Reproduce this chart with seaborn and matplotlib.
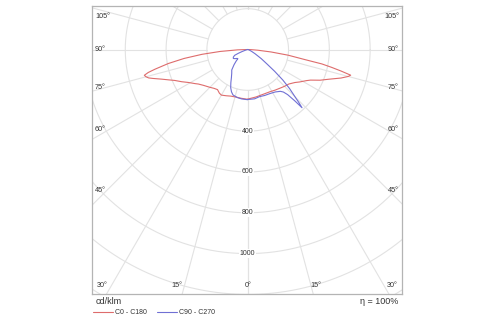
import numpy as np
import pandas as pd
import matplotlib
matplotlib.use("Agg")
import matplotlib.pyplot as plt
from matplotlib.lines import Line2D
import seaborn as sns

# Luminous intensity distribution (gamma angle in degrees, intensity in cd/klm)
c0_gamma = [0, 10, 20, 28, 34, 40, 45, 50, 55, 58, 62, 64, 67, 70, 73, 75, 76, 77, 78, 79, 80, 82, 84, 86, 88, 90]
c0_cd = [243, 236, 232, 234, 240, 247, 255, 263, 282, 300, 325, 342, 385, 425, 478, 510, 520, 470, 420, 370, 285, 200, 115, 50, 15, 0]

c180_gamma = [0, 8, 13, 20, 25, 30, 33, 37, 41, 45, 51, 55, 57, 61, 64, 67, 69, 71, 73, 74, 75, 76, 77, 78, 80, 82, 84, 86, 88, 90]
c180_cd = [244, 241, 240, 243, 250, 258, 255, 246, 252, 262, 279, 295, 307, 333, 360, 388, 415, 446, 485, 505, 516, 522, 500, 465, 395, 315, 225, 135, 50, 0]

c90_gamma = [0, 8, 14, 20, 27, 33, 38, 40, 41.5, 42.5, 43, 44, 45, 47, 49, 51, 53, 56, 60, 65, 70, 75, 90]
c90_cd = [245, 244, 238, 240, 242, 248, 260, 272, 295, 340, 390, 360, 328, 280, 228, 170, 120, 80, 42, 20, 8, 2, 0]

c270_gamma = [0, 7, 12, 18, 21, 24, 27, 30, 34, 38, 42, 45, 47, 50, 54, 58, 62, 66, 68, 70, 73, 76, 80, 90]
c270_cd = [246, 244, 241, 234, 222, 205, 182, 160, 140, 127, 100, 80, 66, 68, 76, 83, 80, 70, 50, 30, 12, 4, 0, 0]

plane_names = ["C0 - C180", "C90 - C270"]
plane_colors = ["#de6c6c", "#7070d4"]

ring_values = [200, 400, 600, 800, 1000, 1200, 1400]
ring_labels = [400, 600, 800, 1000]
spoke_angles = list(range(0, 181, 15))
side_angle_labels = [105, 90, 75, 60, 45]
bottom_angle_labels = [30, 15, 0, 15, 30]

TEXT = "#333333"
GRID = "#e2e2e2"


def plane_xy(left_gamma, left_cd, right_gamma, right_cd):
    lg = np.radians(left_gamma[::-1])
    lr = np.asarray(left_cd[::-1], float)
    rg = np.radians(right_gamma)
    rr = np.asarray(right_cd, float)
    x = np.concatenate([-lr * np.sin(lg), rr * np.sin(rg)])
    y = np.concatenate([-lr * np.cos(lg), -rr * np.cos(rg)])
    return x, y


frames = []
for name, (lg, lc, rg, rc) in zip(
    plane_names,
    [(c180_gamma, c180_cd, c0_gamma, c0_cd), (c270_gamma, c270_cd, c90_gamma, c90_cd)],
):
    x, y = plane_xy(lg, lc, rg, rc)
    frames.append(pd.DataFrame({"x": x, "y": y, "plane": name}))
curves = pd.concat(frames, ignore_index=True)

sns.set_theme(style="white")
plt.rcParams["font.family"] = ["Liberation Sans", "DejaVu Sans"]

fig = plt.figure(figsize=(5.0, 3.25), dpi=100)
ax = fig.add_axes([0.184, 0.0954, 0.62, 0.886])
ax.set_xlim(-763, 756)
ax.set_ylim(-1198, 213)
ax.set_xticks([])
ax.set_yticks([])
for s in ax.spines.values():
    s.set_color("#b4b4b4")
    s.set_linewidth(0.9)

# polar grid: rings and spokes starting at the first ring
t = np.linspace(0, 2 * np.pi, 721)
for rv in ring_values:
    ax.plot(rv * np.cos(t), rv * np.sin(t), color=GRID, lw=0.8, zorder=1)
for a in spoke_angles:
    ar = np.radians(a)
    r0, r1 = ring_values[0], 3000
    for sgn in (-1, 1):
        ax.plot([sgn * r0 * np.sin(ar), sgn * r1 * np.sin(ar)],
                [-r0 * np.cos(ar), -r1 * np.cos(ar)], color=GRID, lw=0.8, zorder=1)

sns.lineplot(data=curves, x="x", y="y", hue="plane", palette=plane_colors,
             sort=False, estimator=None, legend=False, linewidth=0.8, ax=ax, zorder=3)
ax.set_xlabel("")
ax.set_ylabel("")

for rv in ring_labels:
    ax.text(0, -rv, str(rv), ha="center", va="center", fontsize=5, color=TEXT,
            bbox=dict(facecolor="white", edgecolor="none", pad=0.6), zorder=4)

side_y = [164, 0, -186, -394, -689]
for lab, yy in zip(side_angle_labels, side_y):
    ax.text(-748, yy, f"{lab}°", ha="left", va="center", fontsize=5.2, color=TEXT, zorder=4)
    ax.text(741, yy, f"{lab}°", ha="right", va="center", fontsize=5.2, color=TEXT, zorder=4)

bottom_x = [-715, -348, 0, 335, 707]
for lab, xx in zip(bottom_angle_labels, bottom_x):
    ax.text(xx, -1154, f"{lab}°", ha="center", va="center", fontsize=5.2, color=TEXT, zorder=4)

fig.text(96 / 500, 1 - 302 / 325, "cd/klm", ha="left", va="center", fontsize=6.5, color=TEXT)
fig.text(398 / 500, 1 - 302 / 325, "η = 100%", ha="right", va="center", fontsize=6.5, color=TEXT)

handles = [Line2D([], [], color=c, lw=0.8) for c in plane_colors]
fig.legend(handles, plane_names, loc="center left", bbox_to_anchor=(93 / 500, 1 - 313 / 325),
           ncol=2, frameon=False, fontsize=5, handlelength=2.9, handletextpad=0.3,
           columnspacing=1.4, borderpad=0, borderaxespad=0, labelcolor=TEXT)

fig.savefig("out.png", dpi=100, facecolor="white")
